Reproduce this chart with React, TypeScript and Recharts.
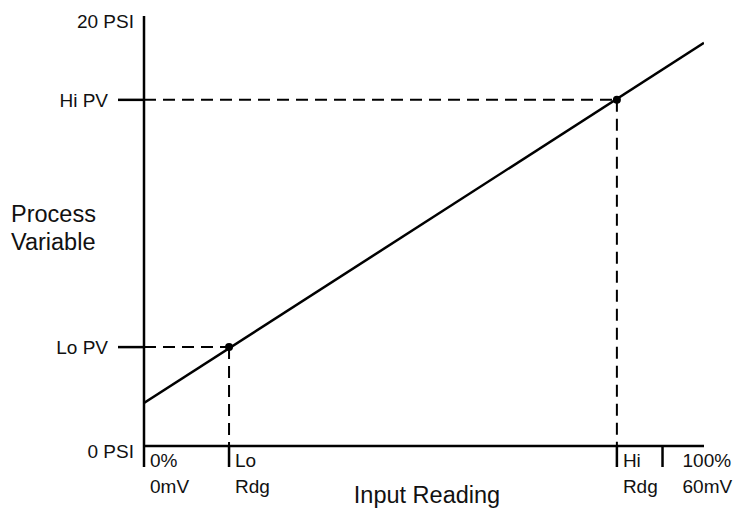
import React from 'react';
import {
  ComposedChart,
  Line,
  Scatter,
  XAxis,
  YAxis,
  ReferenceLine,
} from 'recharts';

// transfer line: input reading (%) -> process variable (PSI)
const lineData = [
  { x: 0, y: 2 },
  { x: 108, y: 18.75 },
];

const calPoints = [
  { x: 16.4, y: 4.6 },
  { x: 91.2, y: 16.1 },
];

const xTicks = [0, 16.4, 91.2, 100];
const xTickLabels = [
  ['0%', '0mV'],
  ['Lo', 'Rdg'],
  ['Hi', 'Rdg'],
  ['100%', '60mV'],
];

const yTicks = [0, 4.6, 16.1, 20];
const yTickLabels = ['0 PSI', 'Lo PV', 'Hi PV', '20 PSI'];

const FONT = '"Liberation Sans", Arial, Helvetica, sans-serif';
const INK = '#000';

const YTick = (props: any) => {
  const { x, y, index } = props;
  const label = yTickLabels[index];
  const isScale = index === 0 || index === yTicks.length - 1;
  if (isScale) {
    return (
      <text x={x - 10} y={y + 5} dy='0.35em' textAnchor='end' fontSize={19} fontFamily={FONT} fill='#111'>
        {label}
      </text>
    );
  }
  return (
    <g>
      <line x1={x - 26} x2={x} y1={y} y2={y} stroke={INK} strokeWidth={2.5} />
      <text x={x - 36} y={y} dy='0.35em' textAnchor='end' fontSize={19} fontFamily={FONT} fill='#111'>
        {label}
      </text>
    </g>
  );
};

const XTick = (props: any) => {
  const { x, y, index } = props;
  const [l1, l2] = xTickLabels[index];
  const dx = index === xTicks.length - 1 ? 20 : 6;
  return (
    <g>
      <line x1={x} x2={x} y1={y} y2={y + 21} stroke={INK} strokeWidth={2.5} />
      <text x={x + dx} y={y + 21} fontSize={19} fontFamily={FONT} fill='#111'>
        {l1}
      </text>
      <text x={x + dx} y={y + 47} fontSize={19} fontFamily={FONT} fill='#111'>
        {l2}
      </text>
    </g>
  );
};

const YTitle = (props: any) => {
  const vb = props.viewBox;
  const cy = vb.y + vb.height / 2;
  return (
    <text fontSize={23.5} fontFamily={FONT} fill='#111'>
      <tspan x={11} y={cy - 9}>Process</tspan>
      <tspan x={11} y={cy + 19}>Variable</tspan>
    </text>
  );
};

const XTitle = (props: any) => {
  const vb = props.viewBox;
  return (
    <text x={vb.x + vb.width / 2 + 3} y={vb.y + 57} textAnchor='middle' fontSize={23.5} fontFamily={FONT} fill='#111'>
      Input Reading
    </text>
  );
};

const Dot = (props: any) => <circle cx={props.cx} cy={props.cy} r={4} fill={INK} />;

export default function App() {
  const [lo, hi] = calPoints;
  const dash = { stroke: INK, strokeWidth: 2, strokeDasharray: '12 7' };
  return (
    <div style={{ position: 'absolute', left: 0, top: 0, background: '#fff' }}>
      <ComposedChart
        width={735}
        height={510}
        margin={{ top: 16, right: 31, left: 0, bottom: 0 }}
      >
        <XAxis
          type='number'
          dataKey='x'
          domain={[0, 108]}
          ticks={xTicks}
          interval={0}
          height={64}
          tickSize={0}
          tickMargin={0}
          tickLine={false}
          axisLine={{ stroke: INK, strokeWidth: 2.5 }}
          tick={<XTick />}
          label={{ content: <XTitle /> }}
          allowDataOverflow
        />
        <YAxis
          type='number'
          dataKey='y'
          domain={[0, 20]}
          ticks={yTicks}
          interval={0}
          width={144}
          tickSize={0}
          tickMargin={0}
          tickLine={false}
          axisLine={{ stroke: INK, strokeWidth: 2.5 }}
          tick={<YTick />}
          label={{ content: <YTitle /> }}
          allowDataOverflow
        />
        <ReferenceLine segment={[{ x: 0, y: lo.y }, { x: lo.x, y: lo.y }]} {...dash} />
        <ReferenceLine segment={[{ x: lo.x, y: lo.y }, { x: lo.x, y: 0 }]} {...dash} />
        <ReferenceLine segment={[{ x: 0, y: hi.y }, { x: hi.x, y: hi.y }]} {...dash} />
        <ReferenceLine segment={[{ x: hi.x, y: hi.y }, { x: hi.x, y: 0 }]} {...dash} />
        <Line
          data={lineData}
          dataKey='y'
          type='linear'
          stroke={INK}
          strokeWidth={2.5}
          dot={false}
          isAnimationActive={false}
        />
        <Scatter data={calPoints} dataKey='y' shape={<Dot />} isAnimationActive={false} />
      </ComposedChart>
    </div>
  );
}
